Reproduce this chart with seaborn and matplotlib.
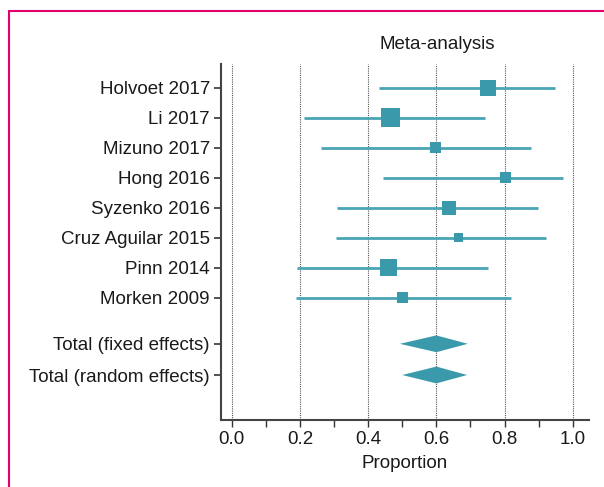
import numpy as np
import matplotlib.pyplot as plt
import seaborn as sns
from matplotlib.patches import Polygon
from matplotlib.lines import Line2D
from matplotlib.ticker import MultipleLocator

studies = ['Holvoet 2017', 'Li 2017', 'Mizuno 2017', 'Hong 2016', 'Syzenko 2016',
           'Cruz Aguilar 2015', 'Pinn 2014', 'Morken 2009']
estimate = [0.750, 0.465, 0.597, 0.802, 0.637, 0.664, 0.459, 0.500]
lower = [0.431, 0.213, 0.262, 0.443, 0.308, 0.305, 0.193, 0.188]
upper = [0.947, 0.742, 0.876, 0.972, 0.897, 0.921, 0.750, 0.818]
weights = [16.6, 23.4, 7.8, 7.8, 12.7, 5.2, 18.7, 7.8]

pooled_labels = ['Total (fixed effects)', 'Total (random effects)']
pooled_est = [0.600, 0.600]
pooled_lower = [0.493, 0.500]
pooled_upper = [0.692, 0.690]

sns.set_style("ticks")
plt.rcParams['font.family'] = ['Liberation Sans', 'DejaVu Sans']

teal = '#3a9aab'
line_teal = '#4aa5b5'
txt = '#1a1a1a'

fig = plt.figure(figsize=(6.04, 4.87), dpi=100)
ax = fig.add_axes([0.366, 0.1376, 0.609, 0.731])

study_y = np.arange(len(studies), dtype=float)
pooled_y = np.array([8.53, 9.57])

for xv in [0.0, 0.2, 0.4, 0.6, 0.8, 1.0]:
    ax.axvline(xv, color='#555555', linestyle=(0, (1, 1)), linewidth=0.8, zorder=0)

ax.hlines(study_y, lower, upper, color=line_teal, linewidth=2, zorder=2)

# square side proportional to sqrt(weight)
px_per_w = 19 / np.sqrt(max(weights))
areas = (np.sqrt(weights) * px_per_w * 0.72) ** 2
sns.scatterplot(x=estimate, y=study_y, size=weights,
                sizes=(areas.min(), areas.max()), marker='s', color=teal,
                linewidth=0, legend=False, ax=ax, zorder=3)

half_h = 0.28
for y, lo, est, up in zip(pooled_y, pooled_lower, pooled_est, pooled_upper):
    ax.add_patch(Polygon([[lo, y], [est, y - half_h], [up, y], [est, y + half_h]],
                         closed=True, facecolor=teal, edgecolor='none', zorder=3))

ax.set_ylim(11.07, -0.8)
ax.set_yticks(list(study_y) + list(pooled_y))
ax.set_yticklabels(studies + pooled_labels)
ax.set_xticks([0.0, 0.2, 0.4, 0.6, 0.8, 1.0])
ax.set_xticklabels(['0.0', '0.2', '0.4', '0.6', '0.8', '1.0'])
ax.xaxis.set_minor_locator(MultipleLocator(0.1))
ax.set_xlim(-0.031, 1.047)

ax.tick_params(axis='both', which='both', direction='out', length=5, width=1,
               color='#333333', labelsize=13.5, labelcolor=txt)
ax.tick_params(axis='x', which='major', pad=3)
ax.yaxis.set_ticks_position('left')
ax.yaxis.set_tick_params(which='major', left=True, length=5, width=1.2,
                         color='#333333', pad=3)

for side in ['top', 'right']:
    ax.spines[side].set_visible(False)
for side in ['left', 'bottom']:
    ax.spines[side].set_color('#444444')
    ax.spines[side].set_linewidth(1.5)

ax.set_xlabel('Proportion', fontsize=13.5, color=txt, labelpad=5)
ax.set_title('Meta-analysis', fontsize=13.5, color=txt, x=0.587, pad=11)

border = '#e0006e'
fig.add_artist(Line2D([8.5 / 604, 8.5 / 604], [0, 1 - 11 / 487], color=border, linewidth=1.5))
fig.add_artist(Line2D([8.5 / 604, 1], [1 - 11 / 487, 1 - 11 / 487], color=border, linewidth=1.5))

fig.savefig('out.png', dpi=100)
